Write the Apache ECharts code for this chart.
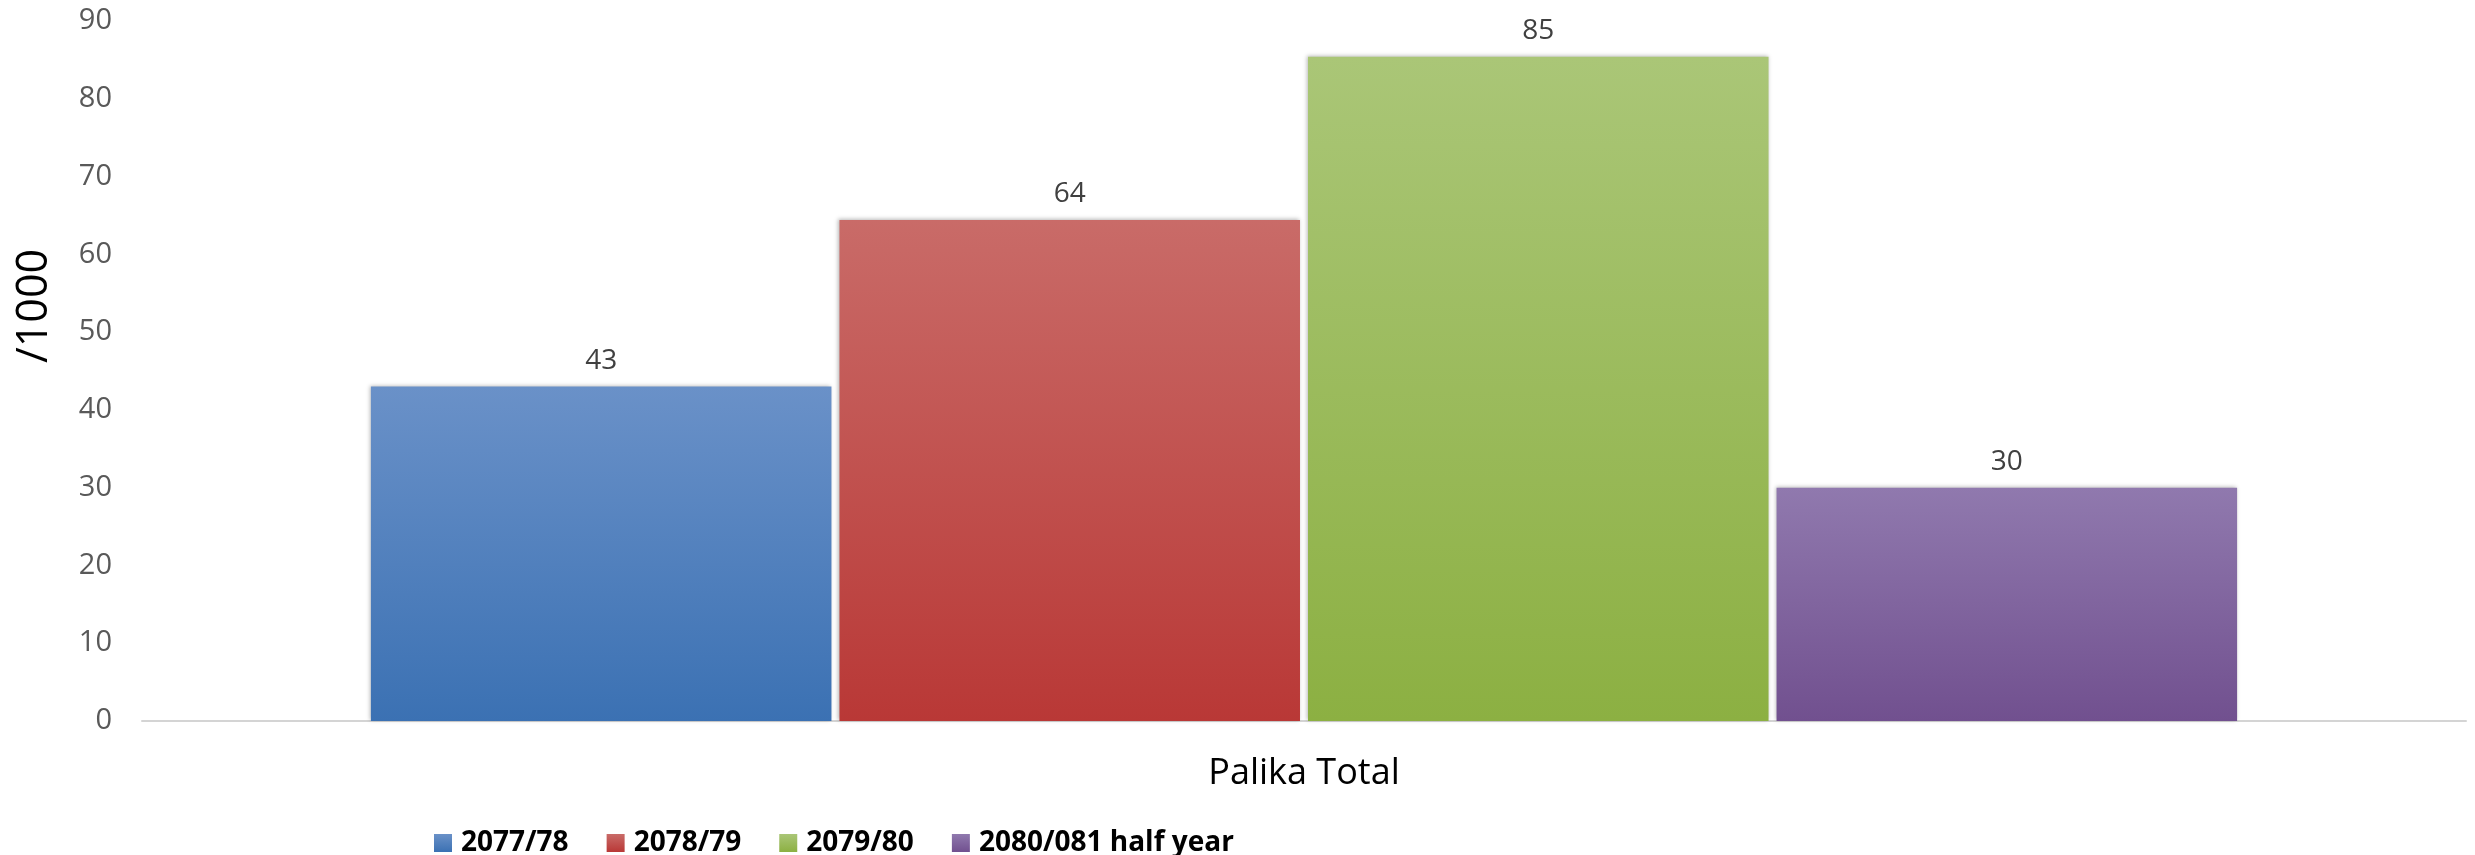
<!DOCTYPE html>
<html>
<head>
<meta charset="utf-8">
<style>
	html,body{margin:0;padding:0;background:#fff;}
	#main{width:2475px;height:855px;}
</style>
<script src="https://cdn.jsdelivr.net/npm/echarts@6/dist/echarts.min.js"></script>
</head>
<body>
<div id="main"></div>
<script type="text/javascript">
// 数据
var categories = ['Palika Total'];
var seriesNames = ['2077/78', '2078/79', '2079/80', '2080/081 half year'];
var values = [43, 64.4, 85.4, 30];
var yTicks = [0, 90, 10]; // min, max, interval

// 颜色 (上浅下深)
var topColors = ['#6A91C8', '#C96B68', '#AAC677', '#9079AE'];
var bottomColors = ['#3B71B3', '#B93836', '#8CB042', '#71508F'];

var myChart = echarts.init(document.getElementById('main'));

var series = [];
for (var i = 0; i < seriesNames.length; i++) {
	series.push({
		name: seriesNames[i],
		type: 'bar',
		barGap: '1.74%',
		barCategoryGap: '19.7%',
		data: [values[i]],
		itemStyle: {
			color: new echarts.graphic.LinearGradient(0, 0, 0, 1, [
				{offset: 0, color: topColors[i]},
				{offset: 1, color: bottomColors[i]}
			]),
			shadowColor: 'rgba(0,0,0,0.28)',
			shadowBlur: 4,
			shadowOffsetX: -1,
			shadowOffsetY: -1
		},
		label: {
			show: true,
			position: 'top',
			distance: 12,
			color: '#404040',
			fontFamily: 'Open Sans',
			fontSize: 28,
			formatter: function (p) { return Math.round(p.value); }
		}
	});
}

var option = {
	animation: false,
	backgroundColor: '#ffffff',
	grid: {
		left: 142,
		right: 9,
		top: 21,
		bottom: 134
	},
	legend: {
		data: seriesNames,
		left: 429,
		top: 824,
		icon: 'rect',
		itemWidth: 18,
		itemHeight: 18,
		itemGap: 38,
		textStyle: {
			color: '#000',
			fontFamily: 'Open Sans',
			fontWeight: 'bold',
			fontSize: 28,
			padding: [0, 0, 0, 4]
		}
	},
	graphic: [{
		type: 'text',
		x: 35,
		y: 306,
		rotation: Math.PI / 2,
		style: {
			text: '/1000',
			fill: '#000',
			font: '43px "Open Sans"',
			align: 'center',
			verticalAlign: 'middle'
		}
	}],
	xAxis: {
		type: 'category',
		data: categories,
		axisTick: {show: false},
		axisLine: {lineStyle: {color: '#D4D4D4', width: 2}},
		axisLabel: {
			color: '#000',
			fontFamily: 'Open Sans',
			fontSize: 36,
			margin: 35
		}
	},
	yAxis: {
		type: 'value',
		min: yTicks[0],
		max: yTicks[1],
		interval: yTicks[2],
		splitLine: {show: false},
		axisLine: {show: false},
		axisTick: {show: false},
		axisLabel: {
			color: '#595959',
			fontFamily: 'Open Sans',
			fontSize: 29,
			margin: 30
		}
	},
	series: series
};
myChart.setOption(option);
</script>
</body>
</html>
